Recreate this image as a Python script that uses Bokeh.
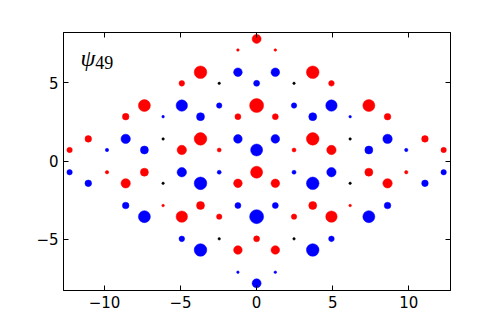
from bokeh.plotting import figure
from bokeh.models import LinearAxis, FixedTicker, ColumnDataSource, Label, Range1d
from bokeh.embed import file_html
from bokeh.resources import INLINE

# Lattice sites (x, y) and signed wavefunction amplitude psi
x_pos = [
    0.0,
    -1.23, 1.23,
    -3.69, -1.23, 1.23, 3.69,
    -4.92, -2.46, 0.0, 2.46, 4.92,
    -7.38, -4.92, -2.46, 0.0, 2.46, 4.92, 7.38,
    -8.61, -6.15, -3.69, -1.23, 1.23, 3.69, 6.15, 8.61,
    -11.07, -8.61, -6.15, -3.69, -1.23, 1.23, 3.69, 6.15, 8.61, 11.07,
    -12.3, -9.84, -7.38, -4.92, -2.46, 0.0, 2.46, 4.92, 7.38, 9.84, 12.3,
    -12.3, -9.84, -7.38, -4.92, -2.46, 0.0, 2.46, 4.92, 7.38, 9.84, 12.3,
    -11.07, -8.61, -6.15, -3.69, -1.23, 1.23, 3.69, 6.15, 8.61, 11.07,
    -8.61, -6.15, -3.69, -1.23, 1.23, 3.69, 6.15, 8.61,
    -7.38, -4.92, -2.46, 0.0, 2.46, 4.92, 7.38,
    -4.92, -2.46, 0.0, 2.46, 4.92,
    -3.69, -1.23, 1.23, 3.69,
    -1.23, 1.23,
    0.0,
]
y_pos = [
    7.81,
    7.10, 7.10,
    5.68, 5.68, 5.68, 5.68,
    4.97, 4.97, 4.97, 4.97, 4.97,
    3.55, 3.55, 3.55, 3.55, 3.55, 3.55, 3.55,
    2.84, 2.84, 2.84, 2.84, 2.84, 2.84, 2.84, 2.84,
    1.42, 1.42, 1.42, 1.42, 1.42, 1.42, 1.42, 1.42, 1.42, 1.42,
    0.71, 0.71, 0.71, 0.71, 0.71, 0.71, 0.71, 0.71, 0.71, 0.71, 0.71,
    -0.71, -0.71, -0.71, -0.71, -0.71, -0.71, -0.71, -0.71, -0.71, -0.71, -0.71,
    -1.42, -1.42, -1.42, -1.42, -1.42, -1.42, -1.42, -1.42, -1.42, -1.42,
    -2.84, -2.84, -2.84, -2.84, -2.84, -2.84, -2.84, -2.84,
    -3.55, -3.55, -3.55, -3.55, -3.55, -3.55, -3.55,
    -4.97, -4.97, -4.97, -4.97, -4.97,
    -5.68, -5.68, -5.68, -5.68,
    -7.10, -7.10,
    -7.81,
]
psi = [
    0.45,
    0.13, 0.13,
    0.63, -0.43, -0.43, 0.63,
    0.28, 0.0, -0.30, 0.0, 0.28,
    0.60, -0.57, -0.27, 0.70, -0.27, -0.57, 0.60,
    0.33, -0.13, -0.40, 0.30, 0.30, -0.40, -0.13, 0.33,
    0.33, -0.47, 0.0, 0.63, -0.43, -0.43, 0.63, 0.0, -0.47, 0.33,
    0.27, -0.17, -0.40, 0.47, 0.20, -0.60, 0.20, 0.47, -0.40, -0.17, 0.27,
    -0.27, 0.17, 0.40, -0.47, -0.20, 0.60, -0.20, -0.47, 0.40, 0.17, -0.27,
    -0.33, 0.47, 0.0, -0.63, 0.43, 0.43, -0.63, 0.0, 0.47, -0.33,
    -0.33, 0.13, 0.40, -0.30, -0.30, 0.40, 0.13, -0.33,
    -0.60, 0.57, 0.27, -0.70, 0.27, 0.57, -0.60,
    -0.28, 0.0, 0.30, 0.0, -0.28,
    -0.63, 0.43, 0.43, -0.63,
    -0.13, -0.13,
    -0.45,
]

x_ticks = [-10, -5, 0, 5, 10]
y_ticks = [-5, 0, 5]
state_label = "ψ"
state_index = "49"

colors = ["red" if v > 0 else ("blue" if v < 0 else "black") for v in psi]
sizes = [max(20 * abs(v), 2.5) for v in psi]

src = ColumnDataSource(dict(x=x_pos, y=y_pos, c=colors, s=sizes))

p = figure(
    output_backend="svg", toolbar_location=None,
    frame_width=387, frame_height=258,
    min_border_left=63, min_border_right=50, min_border_top=32, min_border_bottom=32,
    x_range=Range1d(-12.7, 12.75), y_range=Range1d(-8.27, 8.22),
    x_axis_location=None, y_axis_location=None,
)
p.background_fill_color = "white"
p.border_fill_color = "white"
p.outline_line_color = "black"
p.outline_line_width = 1
p.xgrid.visible = False
p.ygrid.visible = False

p.scatter("x", "y", size="s", fill_color="c", line_color="c", line_width=0.5, source=src)

minus = {-10: "\u221210", -5: "\u22125"}


def styled_axis(ticker, show_labels, standoff):
    ax = LinearAxis(ticker=FixedTicker(ticks=ticker))
    ax.major_tick_in = 5
    ax.major_tick_out = 0
    ax.minor_tick_in = 0
    ax.minor_tick_out = 0
    ax.major_tick_line_color = "black"
    ax.axis_line_color = "black"
    ax.major_label_standoff = standoff
    ax.major_label_overrides = minus
    if show_labels:
        ax.major_label_text_font = "DejaVu Sans"
        ax.major_label_text_font_size = "15px"
        ax.major_label_text_color = "black"
    else:
        ax.major_label_text_font_size = "0px"
        ax.major_label_text_alpha = 0
    return ax


p.add_layout(styled_axis(x_ticks, True, 5), "below")
p.add_layout(styled_axis(y_ticks, True, 5), "left")
p.add_layout(styled_axis(x_ticks, False, 0), "above")
p.add_layout(styled_axis(y_ticks, False, 0), "right")

p.add_layout(Label(x=-11.58, y=6.58, text=state_label, text_font="Liberation Serif",
                   text_font_style="italic", text_font_size="24px",
                   text_baseline="alphabetic", text_color="black"))
p.add_layout(Label(x=-10.62, y=6.29, text=state_index, text_font="Liberation Serif",
                   text_font_size="18px", text_baseline="alphabetic", text_color="black"))

open("out.html", "w").write(file_html(p, INLINE))
